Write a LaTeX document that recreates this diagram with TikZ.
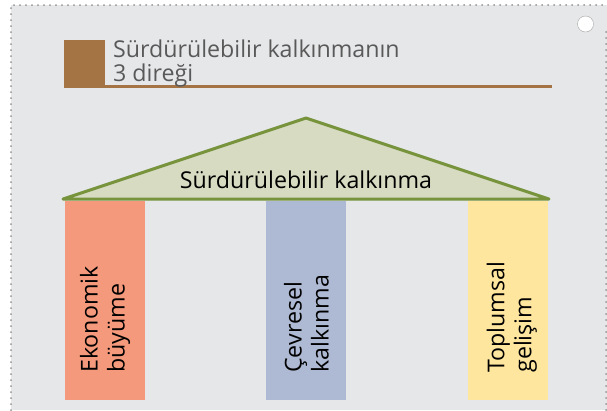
\documentclass[tikz,border=0pt]{standalone}
\usepackage{fontspec}
\setmainfont{Open Sans}
\usetikzlibrary{positioning}

\definecolor{bgGray}{RGB}{230,231,233}
\definecolor{titleBrown}{RGB}{165,116,69}
\definecolor{titleGray}{RGB}{89,89,89}
\definecolor{roofGreen}{RGB}{119,147,60}
\definecolor{roofFill}{RGB}{214,219,193}
\definecolor{pillarSalmon}{RGB}{244,153,123}
\definecolor{pillarBlue}{RGB}{174,186,211}
\definecolor{pillarYellow}{RGB}{255,230,159}

\begin{document}
\begin{tikzpicture}[x=1pt, y=-1pt,
    frameDots/.style={draw=gray!85, line width=2pt, dash pattern=on 0pt off 6pt, line cap=round},
    pillar/.style={minimum width=80pt, minimum height=199pt, inner sep=0pt, anchor=north},
    pillarText/.style={rotate=90, anchor=west, align=left, inner sep=0pt, font=\fontsize{23.2}{27}\selectfont}]
    \useasboundingbox (0,0) rectangle (607,410);

    % Draw background and dotted frame
    \fill[bgGray] (11,5) rectangle (607,410);
    \draw[frameDots] (11,410) -- (11,5) -- (607,5);
    \draw[frameDots] (606,32) -- (606,410);
    \node[circle, draw=gray!70, fill=white, minimum size=16pt, inner sep=0pt] (knob) at (585.5,24) {};

    % Draw title
    \fill[titleBrown] (64,40) rectangle (105,86);
    \draw[titleBrown, line width=3pt] (64,86.5) -- (552,86.5);
    \node[anchor=north west, align=left, inner sep=0pt, text=titleGray,
          font=\fontsize{23.2}{24}\selectfont] (title) at (113,39.5) {Sürdürülebilir kalkınmanın\\3 direği};

    % Draw roof
    \coordinate (roofL) at (63,199);
    \coordinate (roofR) at (549,199);
    \coordinate (roofTop) at (306,118);
    \filldraw[draw=roofGreen, fill=roofFill, line width=3pt, line join=round] (roofL) -- (roofTop) -- (roofR) -- cycle;
    \node[anchor=base, inner sep=0pt, font=\fontsize{23.2}{27}\selectfont] (roofLabel) at (306,188) {Sürdürülebilir kalkınma};

    % Draw pillars
    \node[pillar, fill=pillarSalmon] (econ) at (105,200.5) {};
    \node[pillar, fill=pillarBlue, right=121pt of econ] (env) {};
    \node[pillar, fill=pillarYellow, right=121pt of env] (soc) {};

    \node[pillarText] (econText) at ([yshift=27pt]econ.south) {Ekonomik\\büyüme};
    \node[pillarText] (envText) at ([yshift=27pt]env.south) {Çevresel\\kalkınma};
    \node[pillarText] (socText) at ([xshift=4pt, yshift=27pt]soc.south) {Toplumsal\\gelişim};

\end{tikzpicture}
\end{document}
